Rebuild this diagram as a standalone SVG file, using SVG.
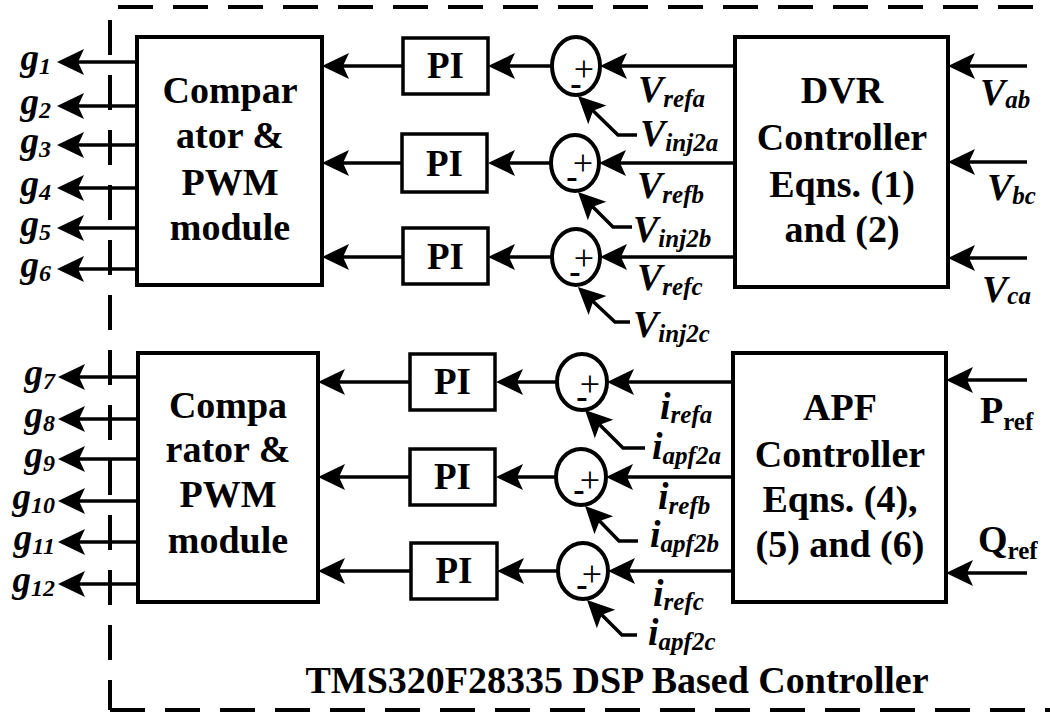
<svg xmlns="http://www.w3.org/2000/svg" width="1050" height="715" viewBox="0 0 1050 715">
<style>
.box{fill:#fff;stroke:#000;stroke-width:4}
.pi{fill:#fff;stroke:#000;stroke-width:3.5}
.sum{fill:#fff;stroke:#000;stroke-width:4}
.ln{fill:none;stroke:#000;stroke-width:3.5;marker-end:url(#ah)}
.dash{fill:none;stroke:#000;stroke-width:4;stroke-dasharray:35 20}
text{font-family:'Liberation Serif','DejaVu Serif',serif}
.bt{font-weight:bold;font-size:38px;text-anchor:middle}
.pit{font-weight:bold;font-size:37px;text-anchor:middle}
.lab{font-weight:bold;font-style:italic;font-size:38px}
.gl{font-weight:bold;font-style:italic;font-size:37px;text-anchor:end}
.sub{font-size:25px}
.gsub{font-size:24px}
.up{font-weight:bold;font-size:38px}
.plus{font-size:36px;text-anchor:middle}
.minus{font-weight:bold;font-size:34px;text-anchor:middle}
</style>
<defs>
<marker id="ah" markerUnits="userSpaceOnUse" markerWidth="28" markerHeight="26" refX="21" refY="13" orient="auto" overflow="visible">
<path d="M0,0 L27,13 L0,26 L6,13 Z" fill="#000"/>
</marker>
</defs>
<rect width="1050" height="715" fill="#fff"/>

<g id="boundary">
<path class="dash" d="M118,7 H1050"/>
<path class="dash" d="M110,20 V710"/>
<path class="dash" d="M110,710 H1050"/>
<text class="bt" x="617" y="693">TMS320F28335 DSP Based Controller</text>
</g>

<g id="connectors">
<path class="ln" d="M137,62 H63"/>
<path class="ln" d="M137,106 H63"/>
<path class="ln" d="M137,145 H63"/>
<path class="ln" d="M137,188 H63"/>
<path class="ln" d="M137,228 H63"/>
<path class="ln" d="M137,269 H63"/>
<path class="ln" d="M138,377 H64"/>
<path class="ln" d="M138,419 H64"/>
<path class="ln" d="M138,459 H64"/>
<path class="ln" d="M138,501 H64"/>
<path class="ln" d="M138,542 H64"/>
<path class="ln" d="M138,584 H64"/>
<path class="ln" d="M403,66 H328"/>
<path class="ln" d="M403,163 H328"/>
<path class="ln" d="M403,257 H328"/>
<path class="ln" d="M552,66 H494"/>
<path class="ln" d="M551,163 H494"/>
<path class="ln" d="M552,257 H494"/>
<path class="ln" d="M735,66 H606"/>
<path class="ln" d="M735,163 H605"/>
<path class="ln" d="M735,257 H606"/>
<path class="ln" d="M1027,66 H954"/>
<path class="ln" d="M1027,162 H954"/>
<path class="ln" d="M1027,258 H954"/>
<path class="ln" d="M637,135 H618 L582.3,100.2"/>
<path class="ln" d="M632,227 H613 L582.2,196.2"/>
<path class="ln" d="M630,322 H615 L582.2,291.2"/>
<path class="ln" d="M410,382 H324"/>
<path class="ln" d="M410,477 H324"/>
<path class="ln" d="M411,571 H324"/>
<path class="ln" d="M557,382 H502"/>
<path class="ln" d="M556,477 H502"/>
<path class="ln" d="M558,571 H503"/>
<path class="ln" d="M733,382 H613"/>
<path class="ln" d="M733,477 H612"/>
<path class="ln" d="M733,571 H614"/>
<path class="ln" d="M1027,380 H952"/>
<path class="ln" d="M1027,573 H952"/>
<path class="ln" d="M645,448 H623 L589.2,414.2"/>
<path class="ln" d="M638,541 H619 L589.2,510.2"/>
<path class="ln" d="M637,635 H622 L591.2,604.2"/>
</g>

<g id="comparator1">
<rect class="box" x="137" y="37" width="185" height="248"/>
<text class="bt" x="230" y="103">Compar</text>
<text class="bt" x="230" y="148">ator &amp;</text>
<text class="bt" x="230" y="195">PWM</text>
<text class="bt" x="230" y="240">module</text>
</g>
<g id="comparator2">
<rect class="box" x="138" y="353" width="180" height="249"/>
<text class="bt" x="228" y="418">Compa</text>
<text class="bt" x="228" y="462">rator &amp;</text>
<text class="bt" x="228" y="507">PWM</text>
<text class="bt" x="228" y="553">module</text>
</g>
<g id="dvr">
<rect class="box" x="735" y="37" width="213" height="250"/>
<text class="bt" x="842" y="103">DVR</text>
<text class="bt" x="842" y="150">Controller</text>
<text class="bt" x="842" y="197">Eqns. (1)</text>
<text class="bt" x="842" y="242">and (2)</text>
</g>
<g id="apf">
<rect class="box" x="733" y="353" width="213" height="249"/>
<text class="bt" x="840" y="420">APF</text>
<text class="bt" x="840" y="467">Controller</text>
<text class="bt" x="840" y="512">Eqns. (4),</text>
<text class="bt" x="840" y="557">(5) and (6)</text>
</g>

<g id="pi1"><rect class="pi" x="403" y="38" width="85" height="56"/><text class="pit" x="445.5" y="78">PI</text></g>
<g id="pi2"><rect class="pi" x="402" y="134" width="85" height="58"/><text class="pit" x="444.5" y="176">PI</text></g>
<g id="pi3"><rect class="pi" x="403" y="228" width="85" height="56"/><text class="pit" x="445.5" y="269">PI</text></g>
<g id="pi4"><rect class="pi" x="410" y="354" width="85" height="56"/><text class="pit" x="452.5" y="394">PI</text></g>
<g id="pi5"><rect class="pi" x="410" y="449" width="85" height="56"/><text class="pit" x="452.5" y="489">PI</text></g>
<g id="pi6"><rect class="pi" x="411" y="543" width="86" height="56"/><text class="pit" x="454" y="583">PI</text></g>

<g id="sum1"><ellipse class="sum" cx="576" cy="66" rx="24" ry="29"/><text class="plus" x="584" y="81">+</text><text class="minus" x="576" y="95">-</text></g>
<g id="sum2"><ellipse class="sum" cx="575" cy="163" rx="24" ry="28"/><text class="plus" x="583" y="175">+</text><text class="minus" x="572" y="188">-</text></g>
<g id="sum3"><ellipse class="sum" cx="576" cy="257" rx="24" ry="28"/><text class="plus" x="584" y="270">+</text><text class="minus" x="575" y="283">-</text></g>
<g id="sum4"><ellipse class="sum" cx="582" cy="382" rx="25" ry="28"/><text class="plus" x="590" y="396">+</text><text class="minus" x="582" y="408">-</text></g>
<g id="sum5"><ellipse class="sum" cx="581" cy="477" rx="25" ry="28"/><text class="plus" x="590" y="492">+</text><text class="minus" x="579" y="501">-</text></g>
<g id="sum6"><ellipse class="sum" cx="583" cy="571" rx="25" ry="28"/><text class="plus" x="592" y="586">+</text><text class="minus" x="582" y="596">-</text></g>

<g id="labels">
<text class="gl" x="51" y="70">g<tspan class="gsub" dy="4">1</tspan></text>
<text class="gl" x="51" y="114">g<tspan class="gsub" dy="4">2</tspan></text>
<text class="gl" x="51" y="153">g<tspan class="gsub" dy="4">3</tspan></text>
<text class="gl" x="51" y="196">g<tspan class="gsub" dy="4">4</tspan></text>
<text class="gl" x="51" y="236">g<tspan class="gsub" dy="4">5</tspan></text>
<text class="gl" x="51" y="277">g<tspan class="gsub" dy="4">6</tspan></text>
<text class="gl" x="55" y="385">g<tspan class="gsub" dy="4">7</tspan></text>
<text class="gl" x="55" y="427">g<tspan class="gsub" dy="4">8</tspan></text>
<text class="gl" x="55" y="467">g<tspan class="gsub" dy="4">9</tspan></text>
<text class="gl" x="55" y="509">g<tspan class="gsub" dy="4">10</tspan></text>
<text class="gl" x="55" y="550">g<tspan class="gsub" dy="4">11</tspan></text>
<text class="gl" x="55" y="592">g<tspan class="gsub" dy="4">12</tspan></text>

<text class="lab" x="638" y="102">V<tspan class="sub" dy="5">refa</tspan></text>
<text class="lab" x="640" y="146">V<tspan class="sub" dy="5">inj2a</tspan></text>
<text class="lab" x="637" y="198">V<tspan class="sub" dy="5">refb</tspan></text>
<text class="lab" x="633" y="242">V<tspan class="sub" dy="5">inj2b</tspan></text>
<text class="lab" x="637" y="290">V<tspan class="sub" dy="5">refc</tspan></text>
<text class="lab" x="633" y="337">V<tspan class="sub" dy="5">inj2c</tspan></text>

<text class="lab" x="980" y="105">V<tspan class="sub" dy="3">ab</tspan></text>
<text class="lab" x="987" y="200">V<tspan class="sub" dy="4">bc</tspan></text>
<text class="lab" x="982" y="302">V<tspan class="sub" dy="2">ca</tspan></text>

<text class="lab" x="660" y="419">i<tspan class="sub" dy="4">refa</tspan></text>
<text class="lab" x="652" y="459">i<tspan class="sub" dy="5">apf2a</tspan></text>
<text class="lab" x="658" y="509">i<tspan class="sub" dy="5">refb</tspan></text>
<text class="lab" x="650" y="547">i<tspan class="sub" dy="5">apf2b</tspan></text>
<text class="lab" x="653" y="606">i<tspan class="sub" dy="4">refc</tspan></text>
<text class="lab" x="648" y="645">i<tspan class="sub" dy="5">apf2c</tspan></text>

<text class="up" x="980" y="423">P<tspan class="sub" dy="7">ref</tspan></text>
<text class="up" x="978" y="552">Q<tspan class="sub" dy="7">ref</tspan></text>
</g>
</svg>
